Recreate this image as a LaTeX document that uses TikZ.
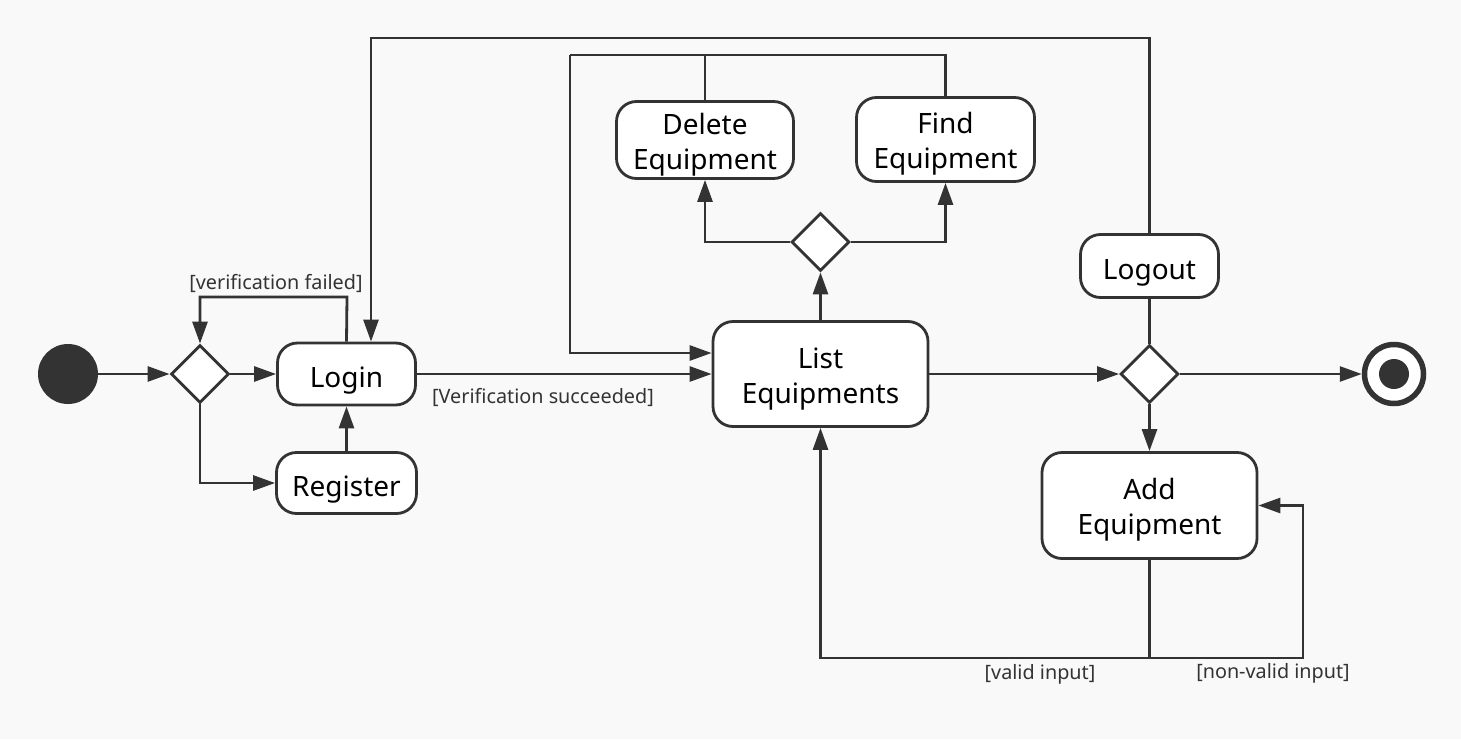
\documentclass[tikz,border=0pt]{standalone}
\usepackage{fontspec}
\setmainfont{Noto Sans}
\usetikzlibrary{arrows.meta,shapes.geometric}
\definecolor{ink}{HTML}{333333}
\definecolor{bg}{HTML}{F9F9F9}
\newcommand{\lowerline}{\rule{0pt}{30pt}}
\begin{document}
\begin{tikzpicture}[x=1pt,y=-1pt,
  actbase/.style={draw=ink, fill=white, line width=2.8pt, rounded corners=20pt, align=center,
    font=\fontsize{28}{35}\selectfont, text=black, inner sep=0pt},
  act/.style={actbase, execute at begin node={\rule{0pt}{33pt}}},
  act2/.style={actbase},
  dec/.style={draw=ink, fill=white, line width=2.8pt, diamond, minimum width=58pt,
    minimum height=58pt, inner sep=0pt},
  flow/.style={draw=ink, line width=2.8pt, -{Triangle[length=22pt,width=15pt]}},
  plain/.style={draw=ink, line width=2.8pt},
  guard/.style={font=\fontsize{19.8}{23}\selectfont, text=ink, inner sep=0pt}
]
\fill[bg] (0,0) rectangle (1461,739);
\useasboundingbox (0,0) rectangle (1461,739);

% nodes
\node[circle, fill=ink, minimum size=60pt, inner sep=0pt] (init) at (68,374) {};
\node[dec] (d1) at (200,374) {};
\node[act, minimum width=138pt, minimum height=62pt] (login) at (346.5,374) {Login};
\node[act, minimum width=140pt, minimum height=61pt] (register) at (346.5,483) {Register};
\node[act2, minimum width=215pt, minimum height=105pt] (list) at (820.5,374) {\lowerline List\\Equipments};
\node[dec] (d2) at (820.5,242) {};
\node[act2, minimum width=177pt, minimum height=77pt] (delete) at (705,140) {\lowerline Delete\\Equipment};
\node[act2, minimum width=178pt, minimum height=84pt] (find) at (945.5,139.5) {\lowerline Find\\Equipment};
\node[act, minimum width=138pt, minimum height=63pt] (logout) at (1149.5,266) {Logout};
\node[dec] (d3) at (1149.5,374) {};
\node[act2, minimum width=215pt, minimum height=106pt] (add) at (1149.5,505.5) {\lowerline Add\\Equipment};
\node[circle, draw=ink, line width=5.5pt, fill=white, minimum size=59pt, inner sep=0pt] (final) at (1394,374) {};
\fill[ink] (final.center) circle (15);

% coordinates for bends
\coordinate (vf) at (347,297);
\coordinate (top) at (371,38);
\coordinate (lp) at (570,55);
\coordinate (bot) at (1149.5,658);
\coordinate (nv) at (1303,658);

% connectors
\draw[flow] (init) -- (d1);
\draw[flow] (d1) -- (login);
\draw[flow] (d1.south) |- (register.west);
\draw[flow] (register) -- (login);
\draw[flow] (login.north) -- (vf) -| (d1.north);
\node[guard] (lvf) at (276,283) {[verification failed]};
\draw[flow] (login.east) -- (list.west);
\node[guard] (lvs) at (543,397) {[Verification succeeded]};
\draw[flow] (list.north) -- (d2.south);
\draw[flow] (d2.west) -| (delete.south);
\draw[flow] (d2.east) -| (find.south);
\draw[plain] (find.north) |- (lp);
\draw[plain] (delete.north) -- (delete.north |- lp);
\draw[flow] (lp) |- ([yshift=21pt]list.west);
\draw[flow] (list.east) -- (d3.west);
\draw[flow] (d3.east) -- (final.west);
\draw[flow] (d3.south) -- (add.north);
\draw[plain] (d3.north) -- (logout.south);
\draw[flow] (logout.north) |- (top) -- (top |- login.north);
\draw[plain] (add.south) -- (bot);
\draw[flow] (bot) -| (list.south);
\draw[flow] (bot) -- (nv) |- (add.east);
\node[guard] (lvi) at (1040,674) {[valid input]};
\node[guard] (lnv) at (1273,673) {[non-valid input]};
\end{tikzpicture}
\end{document}
